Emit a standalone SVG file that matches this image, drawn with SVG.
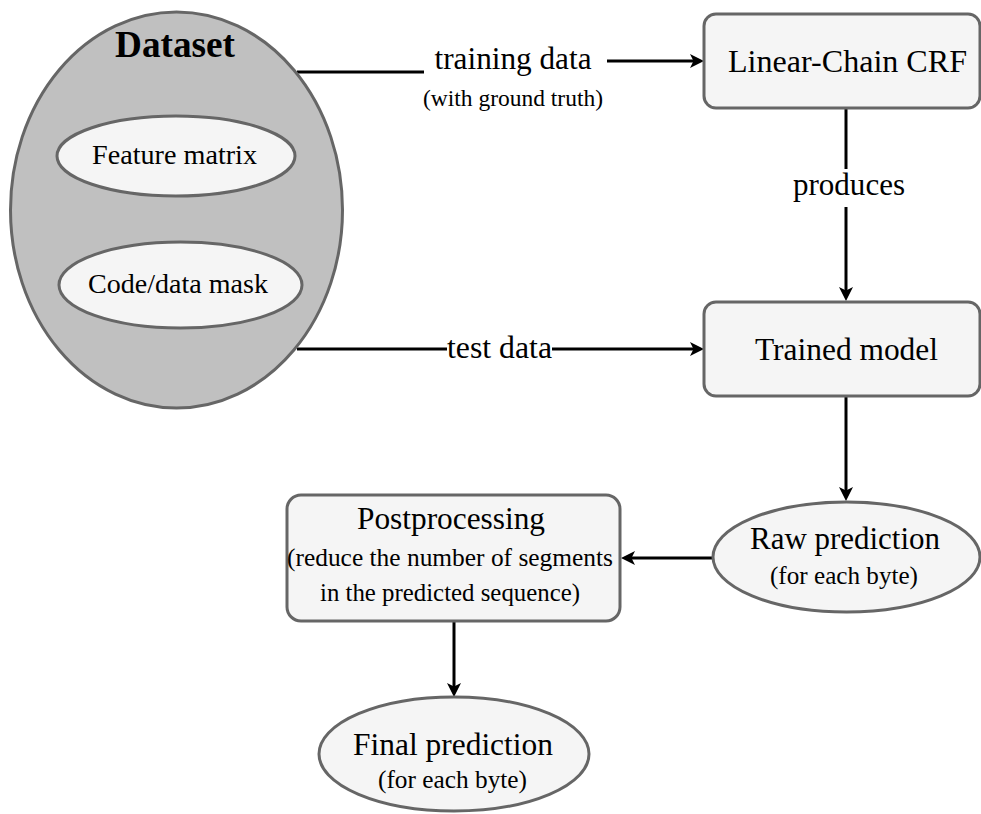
<svg xmlns="http://www.w3.org/2000/svg" width="981" height="814" viewBox="0 0 981 814">
  <style>
    .node { fill: #f5f5f5; stroke: #666666; stroke-width: 3; }
    .outer { fill: #c0c0c0; stroke: #666666; stroke-width: 3; }
    .edge { fill: none; stroke: #000000; stroke-width: 3; }
    text { font-family: 'Liberation Serif', Tinos, 'Times New Roman', serif; fill: #000000; text-anchor: middle; }
    .big { font-size: 32px; }
    .mid { font-size: 28px; }
    .small { font-size: 25px; }
    .note { font-size: 24px; }
    .title { font-size: 37px; font-weight: bold; }
  </style>
  <defs>
    <marker id="arrow" markerUnits="userSpaceOnUse" markerWidth="16" markerHeight="16" viewBox="0 0 16 16" refX="10" refY="8" orient="auto">
      <path d="M16,8 L2,1 L5.5,8 L2,15 Z" fill="#000000"/>
    </marker>
  </defs>

  <rect width="981" height="814" fill="#ffffff"/>

  <!-- connectors -->
  <g id="connectors">
    <!-- Dataset -> Linear-Chain CRF -->
    <line class="edge" x1="297" y1="72" x2="424" y2="72"/>
    <line class="edge" x1="607" y1="61" x2="698" y2="61" marker-end="url(#arrow)"/>
    <text class="big" x="513" y="69" textLength="157" lengthAdjust="spacingAndGlyphs">training data</text>
    <text class="note" x="513" y="106" textLength="180" lengthAdjust="spacingAndGlyphs">(with ground truth)</text>

    <!-- Linear-Chain CRF -> Trained model -->
    <line class="edge" x1="846" y1="108" x2="846" y2="169"/>
    <line class="edge" x1="846" y1="207" x2="846" y2="295" marker-end="url(#arrow)"/>
    <text class="big" x="849" y="195" textLength="112" lengthAdjust="spacingAndGlyphs">produces</text>

    <!-- Dataset -> Trained model -->
    <line class="edge" x1="297" y1="349" x2="447" y2="349"/>
    <line class="edge" x1="552" y1="349" x2="698" y2="349" marker-end="url(#arrow)"/>
    <text class="big" x="499.5" y="358" textLength="105" lengthAdjust="spacingAndGlyphs">test data</text>

    <!-- Trained model -> Raw prediction -->
    <line class="edge" x1="846" y1="397" x2="846" y2="495" marker-end="url(#arrow)"/>

    <!-- Raw prediction -> Postprocessing -->
    <line class="edge" x1="713" y1="558" x2="627" y2="558" marker-end="url(#arrow)"/>

    <!-- Postprocessing -> Final prediction -->
    <line class="edge" x1="454" y1="621" x2="454" y2="691" marker-end="url(#arrow)"/>
  </g>

  <!-- Dataset container with its two members -->
  <g id="dataset">
    <ellipse class="outer" cx="176.5" cy="210" rx="166" ry="198"/>
    <text class="title" x="175" y="57" textLength="120" lengthAdjust="spacingAndGlyphs">Dataset</text>
  </g>
  <g id="feature-matrix">
    <ellipse class="node" cx="176" cy="156" rx="119" ry="40"/>
    <text class="mid" x="174.5" y="164" textLength="165" lengthAdjust="spacingAndGlyphs">Feature matrix</text>
  </g>
  <g id="code-data-mask">
    <ellipse class="node" cx="180.5" cy="285" rx="121.5" ry="43"/>
    <text class="mid" x="178" y="293" textLength="180" lengthAdjust="spacingAndGlyphs">Code/data mask</text>
  </g>

  <g id="linear-chain-crf">
    <rect class="node" x="704" y="14" width="276" height="94" rx="12" ry="12"/>
    <text class="big" x="847.5" y="72" textLength="239" lengthAdjust="spacingAndGlyphs">Linear-Chain CRF</text>
  </g>

  <g id="trained-model">
    <rect class="node" x="704" y="302" width="276" height="94" rx="12" ry="12"/>
    <text class="big" x="846.5" y="360" textLength="183" lengthAdjust="spacingAndGlyphs">Trained model</text>
  </g>

  <g id="raw-prediction">
    <ellipse class="node" cx="846.5" cy="557" rx="133.5" ry="55"/>
    <text class="big" x="845" y="549" textLength="190" lengthAdjust="spacingAndGlyphs">Raw prediction</text>
    <text class="small" x="844" y="584" textLength="148" lengthAdjust="spacingAndGlyphs">(for each byte)</text>
  </g>

  <g id="postprocessing">
    <rect class="node" x="287" y="495" width="333" height="126" rx="14" ry="14"/>
    <text class="big" x="451" y="529" textLength="188" lengthAdjust="spacingAndGlyphs">Postprocessing</text>
    <text class="small" x="450" y="566" textLength="326" lengthAdjust="spacingAndGlyphs">(reduce the number of segments</text>
    <text class="small" x="450" y="601" textLength="260" lengthAdjust="spacingAndGlyphs">in the predicted sequence)</text>
  </g>

  <g id="final-prediction">
    <ellipse class="node" cx="454" cy="754" rx="135" ry="57"/>
    <text class="big" x="453" y="755" textLength="200" lengthAdjust="spacingAndGlyphs">Final prediction</text>
    <text class="small" x="452.5" y="788" textLength="149" lengthAdjust="spacingAndGlyphs">(for each byte)</text>
  </g>
</svg>
